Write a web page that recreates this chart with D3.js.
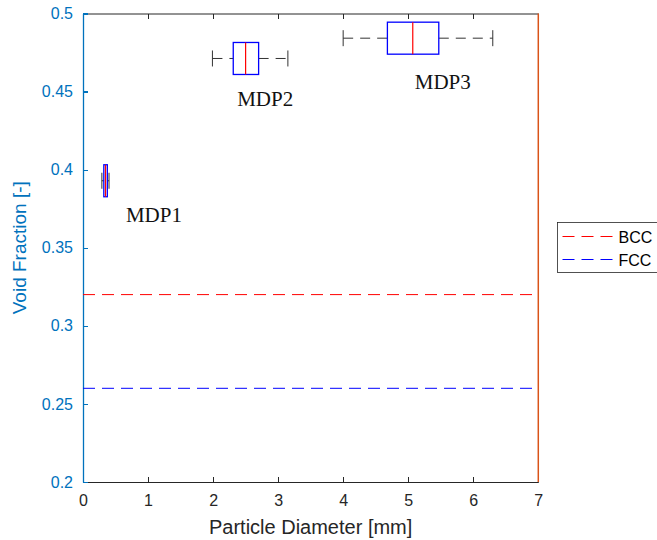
<!DOCTYPE html>
<html lang="en">
<head>
<meta charset="UTF-8">
<title>Void fraction vs particle diameter</title>
<script src="https://d3js.org/d3.v7.min.js"></script>
<style>
    body { margin: 0; background: #fff; }
    svg { display: block; font-family: "Liberation Sans", Arial, sans-serif; }
    .tick line { shape-rendering: crispEdges; }
</style>
</head>
<body>
<script>
// Data
const groups = ["MDP1", "MDP2", "MDP3"];
const voidFrac = [0.3929, 0.4712, 0.4842];      // y position of each box
const whiskLo = [0.29, 1.99, 4.00];
const q1 = [0.32, 2.31, 4.68];
const median = [0.346, 2.50, 5.07];
const q3 = [0.374, 2.70, 5.47];
const whiskHi = [0.40, 3.15, 6.30];
const labelX = [0.66, 2.37, 5.10];
const labelY = [0.3665, 0.4408, 0.4517];

const refNames = ["BCC", "FCC"];
const refValues = [0.32, 0.26];
const refColors = ["#ff0000", "#0000ff"];

const xTicks = [0, 1, 2, 3, 4, 5, 6, 7];
const yTicks = [0.2, 0.25, 0.3, 0.35, 0.4, 0.45, 0.5];

const W = 657, H = 540;
const margin = {top: 13.5, right: 118.7, bottom: 58, left: 83};
const width = W - margin.left - margin.right;
const height = H - margin.top - margin.bottom;

const svg = d3.select("body").append("svg")
    .attr("width", W)
    .attr("height", H);

const g = svg.append("g")
    .attr("transform", `translate(${margin.left},${margin.top})`);

const x = d3.scaleLinear().domain([0, 7]).range([0, width]);
const y = d3.scaleLinear().domain([0.2, 0.5]).range([height, 0]);

// axes
const axisGrey = "#262626";
const xAxis = g.append("g")
    .attr("transform", `translate(0,${height})`)
    .call(d3.axisBottom(x).tickValues(xTicks).tickSizeInner(-5).tickSizeOuter(0).tickPadding(13)
        .tickFormat(d3.format("d")));
xAxis.selectAll("path, line").attr("stroke", axisGrey);
xAxis.selectAll("text").attr("fill", axisGrey).style("font-size", "16px");

const topAxis = g.append("g")
    .call(d3.axisTop(x).tickValues(xTicks).tickSizeInner(-5).tickSizeOuter(0).tickFormat(""));
topAxis.selectAll("path, line").attr("stroke", axisGrey);

const blue = "#0072bd";
const yAxis = g.append("g")
    .call(d3.axisLeft(y).tickValues(yTicks).tickSizeInner(-5).tickSizeOuter(0).tickPadding(10)
        .tickFormat(d => String(+d.toFixed(2))));
yAxis.selectAll("path, line").attr("stroke", blue).attr("stroke-width", 1.3);
yAxis.selectAll("text").attr("fill", blue).style("font-size", "16px");

g.append("line")
    .attr("x1", width).attr("x2", width)
    .attr("y1", 0).attr("y2", height)
    .attr("stroke", "#d95319")
    .attr("stroke-width", 1.5);

// reference lines
g.selectAll(".ref")
    .data(refValues)
    .enter().append("line")
    .attr("class", "ref")
    .attr("x1", 0).attr("x2", width)
    .attr("y1", d => y(d)).attr("y2", d => y(d))
    .attr("stroke", (d, i) => refColors[i])
    .attr("stroke-width", 1)
    .attr("stroke-dasharray", "12,7");

// box plots (horizontal)
const boxHalf = 16;
const capHalf = 8;
const boxes = g.selectAll(".box")
    .data(groups)
    .enter().append("g")
    .attr("class", "box")
    .attr("transform", (d, i) => `translate(0,${y(voidFrac[i])})`);

boxes.append("line")
    .attr("x1", (d, i) => x(whiskLo[i])).attr("x2", (d, i) => x(q1[i]))
    .attr("stroke", "#333").attr("stroke-dasharray", "10,7");
boxes.append("line")
    .attr("x1", (d, i) => x(q3[i])).attr("x2", (d, i) => x(whiskHi[i]))
    .attr("stroke", "#333").attr("stroke-dasharray", "10,7");
boxes.append("line")
    .attr("x1", (d, i) => x(whiskLo[i])).attr("x2", (d, i) => x(whiskLo[i]))
    .attr("y1", -capHalf).attr("y2", capHalf)
    .attr("stroke", "#333");
boxes.append("line")
    .attr("x1", (d, i) => x(whiskHi[i])).attr("x2", (d, i) => x(whiskHi[i]))
    .attr("y1", -capHalf).attr("y2", capHalf)
    .attr("stroke", "#333");
boxes.append("rect")
    .attr("x", (d, i) => x(q1[i]))
    .attr("y", -boxHalf)
    .attr("width", (d, i) => x(q3[i]) - x(q1[i]))
    .attr("height", 2 * boxHalf)
    .attr("fill", "none")
    .attr("stroke", "#0000ff")
    .attr("stroke-width", 1.3);
boxes.append("line")
    .attr("x1", (d, i) => x(median[i])).attr("x2", (d, i) => x(median[i]))
    .attr("y1", -boxHalf).attr("y2", boxHalf)
    .attr("stroke", "#ff0000")
    .attr("stroke-width", 1.2);

// group labels
g.selectAll(".lab")
    .data(groups)
    .enter().append("text")
    .attr("class", "lab")
    .attr("x", (d, i) => x(labelX[i]))
    .attr("y", (d, i) => y(labelY[i]))
    .attr("fill", "#111")
    .style("font-family", "'Liberation Serif', 'Times New Roman', serif")
    .style("font-size", "21px")
    .text(d => d);

// axis labels
svg.append("text")
    .attr("x", margin.left + width / 2)
    .attr("y", 534)
    .attr("text-anchor", "middle")
    .attr("fill", axisGrey)
    .style("font-size", "20px")
    .text("Particle Diameter [mm]");

svg.append("text")
    .attr("transform", `translate(26,${margin.top + height / 2}) rotate(-90)`)
    .attr("text-anchor", "middle")
    .attr("fill", blue)
    .style("font-size", "19px")
    .text("Void Fraction [-]");

// legend
const legend = svg.append("g").attr("transform", "translate(557.5,222.5)");
legend.append("rect")
    .attr("width", 140).attr("height", 50)
    .attr("fill", "#fff")
    .attr("stroke", "#262626")
    .attr("stroke-width", 0.8);
refNames.forEach((name, i) => {
    const ly = 14 + i * 23;
    legend.append("line")
        .attr("x1", 5).attr("x2", 60)
        .attr("y1", ly).attr("y2", ly)
        .attr("stroke", refColors[i])
        .attr("stroke-dasharray", "12,7");
    legend.append("text")
        .attr("x", 61).attr("y", ly + 6)
        .attr("fill", "#000")
        .style("font-size", "16px")
        .text(name);
});
</script>
</body>
</html>
